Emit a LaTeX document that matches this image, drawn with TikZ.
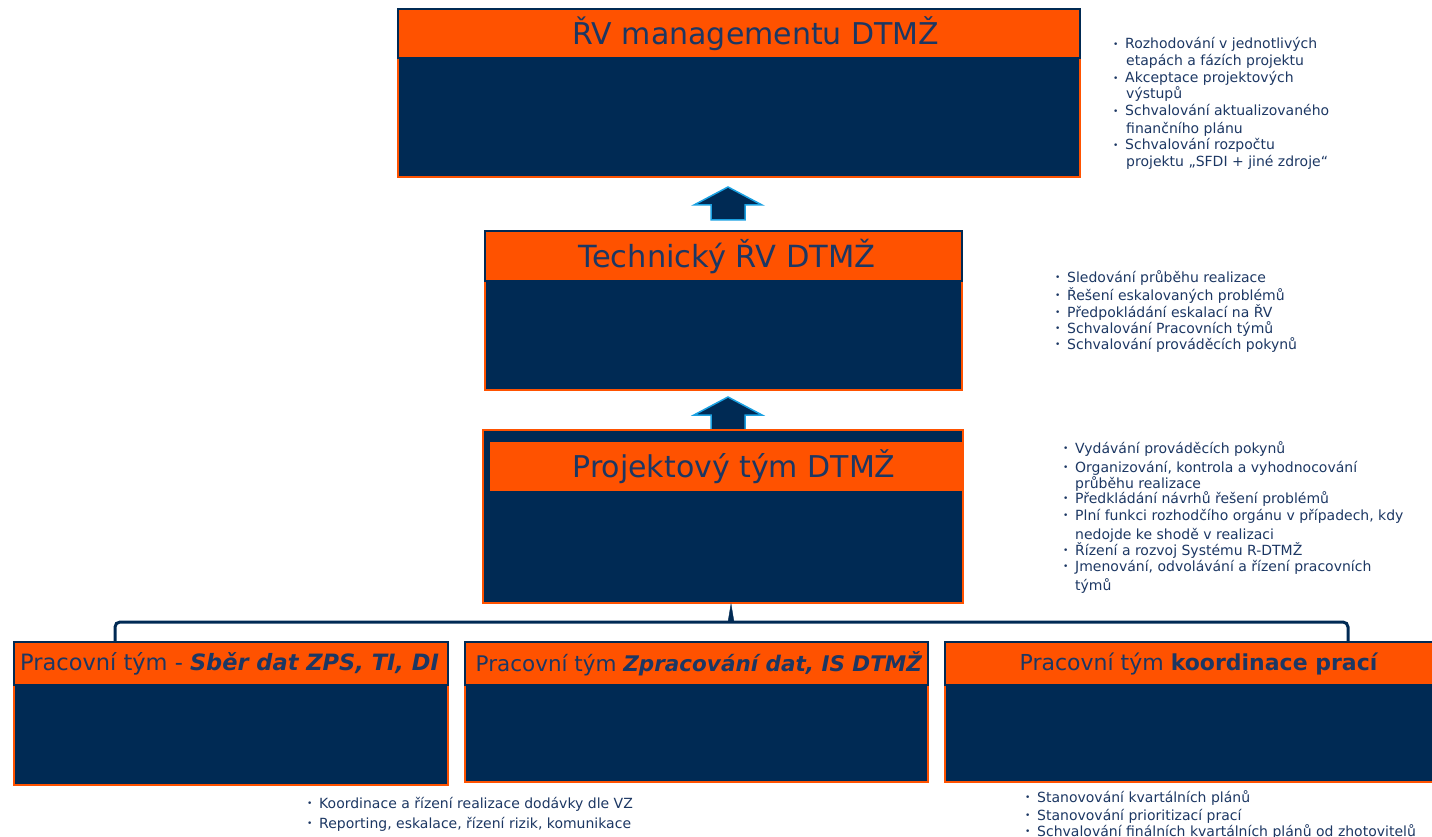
\documentclass[tikz,border=0pt]{standalone}
\usepackage{fontspec}
\setmainfont{DejaVu Sans}
\definecolor{orng}{HTML}{FF5200}
\definecolor{navy}{HTML}{002A54}
\definecolor{txt}{HTML}{1C3763}
\definecolor{lblue}{HTML}{1BA1E2}
\begin{document}
\begin{tikzpicture}[x=1pt,y=-1pt,
  hdr/.style={draw=navy,line width=1.5pt,fill=orng},
  body/.style={draw=orng,line width=1.5pt,fill=navy},
  ttl/.style={text=txt,inner sep=0pt},
  bline/.style={anchor=base west,text=txt,inner sep=0pt,font=\fontsize{14}{16}\selectfont},
  upar/.style={fill=navy,draw=lblue,line width=1.5pt,line join=miter},
  brace/.style={draw=navy,line width=3pt,rounded corners=5pt}]
\useasboundingbox (0,0) rectangle (1432,837);
\newcommand{\bl}[4]{\node[bline] (#1) at (#2,#3) {\makebox[12pt][l]{\fontsize{9}{9}\selectfont\raisebox{1.5pt}{•}}#4};}
% ---- top box
\draw[body] (398,57) rectangle (1080,177);
\draw[hdr] (398,9) rectangle (1080,58);
\node[ttl,font=\fontsize{30}{32}\selectfont] (t1) at (756,34) {ŘV managementu DTMŽ};
% ---- arrow 1
\draw[upar] (728,187) -- (762,205) -- (745,205) -- (745,220) -- (711,220) -- (711,205) -- (694,205) -- cycle;
% ---- middle box
\draw[body] (485,280) rectangle (962,390);
\draw[hdr] (485,231) rectangle (962,281);
\node[ttl,font=\fontsize{30.5}{32}\selectfont] (t2) at (727,257) {Technický ŘV DTMŽ};
% ---- arrow 2
\draw[upar] (728,397) -- (762,415) -- (745,415) -- (745,431) -- (711,431) -- (711,415) -- (694,415) -- cycle;
% ---- project team box
\draw[body] (483,430) rectangle (963,603);
\draw[draw=orng,line width=1pt,fill=orng] (490,442) rectangle (962,490);
\node[ttl,font=\fontsize{30}{32}\selectfont] (t3) at (734,467) {Projektový tým DTMŽ};
% ---- brace
\coordinate (bl) at (115,642);
\coordinate (br) at (1348,642);
\draw[brace] (bl) -- (115,622) -- (1348,622) -- (br);
\draw[navy,fill=navy] (728,622) -- (731,604) -- (734,622) -- cycle;
% ---- bottom boxes
\draw[body] (14,684) rectangle (448,785);
\draw[hdr] (14,642) rectangle (448,685);
\node[ttl,anchor=west,font=\fontsize{22.5}{24}\selectfont] (b1) at (20,664) {Pracovní tým - \textbf{\textit{Sběr dat ZPS, TI, DI}}};
\draw[body] (465,684) rectangle (928,782);
\draw[hdr] (465,642) rectangle (928,685);
\node[ttl,font=\fontsize{21.5}{24}\selectfont] (b2) at (699,664) {Pracovní tým \textbf{\textit{Zpracování dat, IS DTMŽ}}};
\begin{scope}
\clip (0,0) rectangle (1432,837);
\draw[body] (945,684) rectangle (1440,782);
\draw[hdr] (945,642) rectangle (1440,685);
\end{scope}
\node[ttl,font=\fontsize{22}{24}\selectfont] (b3) at (1199,664) {Pracovní tým \textbf{koordinace prací}};
% ---- texts right of top box
\bl{r1a}{1113}{49}{Rozhodování v jednotlivých}
\node[bline] (r1b) at (1126,66) {etapách a fázích projektu};
\bl{r1c}{1113}{83}{Akceptace projektových}
\node[bline] (r1d) at (1126,99) {výstupů};
\bl{r1e}{1113}{116}{Schvalování aktualizovaného}
\node[bline] (r1f) at (1126,134) {finančního plánu};
\bl{r1g}{1113}{150}{Schvalování rozpočtu}
\node[bline] (r1h) at (1126,167) {projektu „SFDI + jiné zdroje“};
% ---- texts right of middle box
\bl{r2a}{1055}{282}{Sledování průběhu realizace}
\bl{r2b}{1055}{300}{Řešení eskalovaných problémů}
\bl{r2c}{1055}{317}{Předpokládání eskalací na ŘV}
\bl{r2d}{1055}{333}{Schvalování Pracovních týmů}
\bl{r2e}{1055}{349}{Schvalování prováděcích pokynů}
% ---- texts right of project team box
\bl{r3a}{1063}{453}{Vydávání prováděcích pokynů}
\bl{r3b}{1063}{472}{Organizování, kontrola a vyhodnocování}
\node[bline] (r3c) at (1075,488) {průběhu realizace};
\bl{r3d}{1063}{503}{Předkládání návrhů řešení problémů}
\bl{r3e}{1063}{520}{Plní funkci rozhodčího orgánu v případech, kdy}
\node[bline] (r3f) at (1075,539) {nedojde ke shodě v realizaci};
\bl{r3g}{1063}{555}{Řízení a rozvoj Systému R-DTMŽ}
\bl{r3h}{1063}{571}{Jmenování, odvolávání a řízení pracovních}
\node[bline] (r3i) at (1075,590) {týmů};
% ---- texts under bottom boxes
\bl{u1a}{307}{808}{Koordinace a řízení realizace dodávky dle VZ}
\bl{u1b}{307}{828}{Reporting, eskalace, řízení rizik, komunikace}
\bl{u3a}{1025}{802}{Stanovování kvartálních plánů}
\bl{u3b}{1025}{820}{Stanovování prioritizací prací}
\bl{u3c}{1025}{836}{Schvalování finálních kvartálních plánů od zhotovitelů}
\end{tikzpicture}
\end{document}
